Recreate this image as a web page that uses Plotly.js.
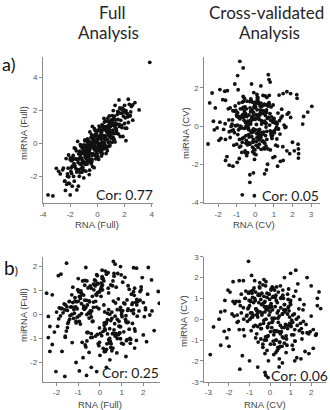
<!DOCTYPE html>
<html>
<head>
<meta charset="utf-8">
<script src="https://cdn.plot.ly/plotly-3.0.1.min.js"></script>
<style>
  html, body { margin: 0; padding: 0; background: #ffffff; }
  #chart { width: 330px; height: 410px; }
</style>
</head>
<body>
<div id="chart"></div>
<script>
// Row a, full analysis: RNA vs miRNA scores
const rnaFullA = [
  3.85, -3.63, -3.27, 3.07, 2.27, 1.59, 2.76, 2.59, 2.1, -3.02, -2.73, -2.85, -2.12, -2.0, -1.51, -1.85, -2.2, -2.12, -1.8, 2.45, 2.0, 1.8, 2.2, 1.3, -2.4, -1.7, -1.4, -2.5, -1.0, -0.6,
  -2.55, -2.4, -2.3, -2.2, -2.15, -2.05, -1.98, -1.9, -1.85, -1.8, -1.75, -1.7, -1.66, -1.6, -1.58, -1.55, -1.52, -1.5, -2.35, -2.0, -1.95, -1.72, -1.62, -2.25, -1.88, -1.68, -1.78, -2.1, -1.54, -1.92,
  -1.45, -1.4, -1.38, -1.33, -1.3, -1.27, -1.22, -1.2, -1.17, -1.12, -1.1, -1.07, -1.03, -1.0, -0.98, -0.95, -0.92, -0.9, -0.87, -0.85, -0.82, -0.8, -0.78, -0.75, -0.72, -0.7, -0.68, -0.65,
  -0.62, -0.6, -0.58, -0.55, -0.52, -0.5, -1.42, -1.25, -1.15, -1.05, -0.96, -0.88, -0.83, -0.77, -0.73, -0.66, -0.57, -1.35, -1.18, -1.08, -0.93, -0.86, -0.69, -0.63, -0.54, -1.28, -0.79,
  -0.48, -0.45, -0.43, -0.4, -0.38, -0.35, -0.33, -0.3, -0.28, -0.25, -0.22, -0.2, -0.18, -0.15, -0.12, -0.1, -0.08, -0.05, -0.03, 0.0, 0.02, 0.05, 0.07, 0.1, 0.12, 0.15, 0.17, 0.2, 0.22,
  0.25, 0.27, 0.3, 0.32, 0.35, 0.38, 0.4, 0.42, 0.45, 0.48, 0.5, -0.46, -0.41, -0.36, -0.31, -0.26, -0.21, -0.16, -0.11, -0.06, -0.01, 0.04, 0.09, 0.14, 0.19, 0.24, 0.29, 0.34, 0.39, 0.44,
  0.49, -0.37, -0.24, 0.01, 0.26, 0.36,
  0.52, 0.55, 0.58, 0.6, 0.63, 0.65, 0.68, 0.7, 0.73, 0.75, 0.78, 0.8, 0.83, 0.85, 0.88, 0.9, 0.93, 0.95, 0.98, 1.0, 1.03, 1.05, 1.08, 1.1, 1.13, 1.15, 1.18, 1.2, 1.24, 1.27, 1.3, 1.34,
  1.38, 1.42, 1.46, 1.5, 0.57, 0.62, 0.67, 0.72, 0.77, 0.82, 0.87, 0.92, 0.97, 1.02, 1.07, 1.12, 1.17, 1.22, 1.32, 1.4, 1.48, 0.64, 0.86,
  1.52, 1.55, 1.58, 1.62, 1.65, 1.68, 1.72, 1.76, 1.8, 1.84, 1.88, 1.92, 1.96, 2.0, 2.05, 2.1, 2.15, 2.2, 2.28, 2.35, 2.42, 2.5, 2.6, 1.6, 1.7, 1.78, 1.9, 2.03, 2.12, 2.3,
  -1.3, -1.1, -0.95, -0.85, -0.7, -0.6, -0.5, -0.4, -0.3, -0.2, -0.1, 0.0, 0.1, 0.2, 0.3, 0.4, 0.5, 0.6, 0.7, 0.8, 0.9, 1.0, 1.1, 1.2, 1.3, -1.2, -1.0, -0.9, -0.75, -0.65,
  -0.55, -0.45, -0.35, -0.25, -0.15, -0.05, 0.05, 0.15, 0.25, 0.35, 0.45, 0.55, 0.65, 0.75, 0.85, 0.95, 1.05, 1.15, 1.25, 1.4, -1.25, -1.05, -0.8, -0.62, -0.42, -0.22, -0.02, 0.18, 0.38, 0.58,
  0.78, 0.98, 1.18, 1.38, -0.88, -0.48, -0.08, 0.32, 0.72, 1.12, -1.15, -0.68, -0.28, 0.12, 0.52, 0.92, 1.32, -0.58, 0.02, 0.62
];
const mirFullA = [
  4.91, -3.13, -3.19, 2.02, 2.67, 2.63, 2.46, 2.32, 0.16, -1.52, -1.86, -1.7, -2.42, -3.13, -2.83, -2.6, -2.0, -0.71, -0.97, 1.9, 2.3, 2.1, 1.6, 2.3, -2.3, -2.3, -2.6, -1.5, -2.1, -1.9,
  -1.61, -2.3, -0.93, -1.85, -1.51, -2.44, -0.89, -1.83, -1.39, -0.9, -2.01, -0.28, -1.35, -0.95, -1.54, -0.46, -1.74, -0.98, -2.86, -1.0, -1.71, -1.24, -0.32, -2.49, -1.06, -1.41, -0.74, -2.03, -0.96, -1.49,
  0.11, -1.6, -0.64, -2.0, -0.88, -1.25, -0.17, -1.55, -0.88, -0.29, -1.03, -0.15, -1.62, -0.4, -1.14, -0.66, 0.21, -1.28, -0.45, -1.69, -0.12, -0.75, -0.29, -1.26, 0.26, -0.88, -0.41, -0.99,
  0.13, -0.7, -0.44, 0.69, -1.14, 0.02, -1.17, -0.69, -1.76, -0.24, -1.17, -0.51, -0.92, 0.12, -1.1, -0.05, -1.63, -0.96, -0.54, -1.46, 0.15, -0.85, 0.08, -0.87, -0.31, -1.76, -0.29,
  0.04, -0.64, 0.53, -1.0, -0.14, -1.41, 0.3, -0.28, 0.09, -0.69, 0.88, -0.4, -0.14, 0.54, -0.94, 0.12, -0.46, 0.46, -0.62, 0.1, 0.77, -0.91, 0.4, -0.07, 1.04, -0.44, 0.38, -0.2, 0.77,
  -0.56, 0.25, -0.77, 0.69, 0.06, 1.09, -0.15, 0.47, -0.31, 1.51, 0.28, 0.35, -1.11, 0.03, -0.63, 0.35, -0.21, 0.78, -0.68, 0.15, -0.31, 0.43, -0.98, 0.76, -0.01, 0.28, -0.28, 1.11, 0.04, 0.83,
  -0.33, 1.02, -1.48, 0.01, 0.55, -0.63,
  -0.06, 1.01, 0.34, 1.35, -0.23, 0.74, 0.21, 1.03, -0.45, 0.71, 1.34, 0.05, 0.97, 0.44, 1.66, -0.17, 0.75, 1.16, 0.34, 1.4, 0.62, 1.09, 0.06, 1.68, 0.8, 1.41, 0.29, 1.1, 0.58, 1.65, 0.08, 1.41,
  0.79, 1.17, 0.6, 1.93, 0.43, -0.18, 0.95, 0.24, 1.53, 0.52, 1.15, -0.11, 1.03, 0.32, 1.4, 0.64, 1.98, 0.22, 1.14, 0.65, 1.76, -0.62, 0.9,
  1.44, 0.56, 1.84, 1.02, 2.14, 0.41, 1.39, 1.82, 0.95, 2.13, 0.41, 1.64, 2.02, 1.2, 1.54, 1.98, 0.91, 1.8, 1.26, 2.36, 1.67, 2.23, 1.4, 1.15, 2.08, 1.09, 1.88, 0.92, 1.84, 1.63,
  -0.48, -1.13, -0.51, -1.24, 0.17, -0.55, -0.03, -0.75, -0.18, 0.45, -0.78, 0.25, -0.12, 0.95, -0.27, 0.45, 0.03, 0.9, -0.27, 0.7, 1.23, 0.5, 1.13, 0.25, 0.98, -1.3, -0.1, -0.83, -0.16, -1.04,
  -0.21, -1.24, 0.24, -0.24, 0.19, -0.64, 0.79, -0.19, 0.29, -0.19, 0.94, 0.21, 0.84, -0.19, 0.79, 0.61, 1.24, 0.36, 1.19, 0.75, -0.09, -1.19, -0.55, 0.03, -0.97, 0.03, -0.27, 0.84, -0.26, 0.44,
  0.99, 0.39, 1.49, 0.89, -1.16, -0.06, 0.59, -0.46, 0.64, 0.64, -0.61, -0.56, 0.34, -0.31, 1.29, 0.09, 1.14, 0.01, -0.78, 0.82
];

// Row a, cross-validated analysis
const rnaCvA = [
  -0.83, -0.65, -0.95, 0.7, 0.74, 0.8, -0.7, -0.05, -0.29, -0.29, -0.1, -2.54, 3.04, 2.82, 2.32, 2.32, 2.3, 2.33, 2.23, 2.25, -2.32, -2.45, -1.9, -1.64, -2.2, -2.25, -1.6, -1.4, -1.2, 0.5,
  0.6, 1.2, 1.5, 1.9, 0.3, -0.2, 2.55, 2.6, -1.1, 1.7,
  -0.12, 0.45, -0.88, 1.23, 0.05, -0.41, 0.77, -1.35, 0.3, -0.65, 1.02, -0.2, 0.58, -1.1, 0.14, -0.52, 1.5, -0.03, 0.36, -0.95,
  0.68, -0.27, 1.15, -1.6, 0.22, -0.74, 0.9, -0.08, 0.51, -1.25, 0.1, -0.46, 1.38, -0.6, 0.26, -1.85, 0.83, -0.15, 0.62, -0.35,
  1.72, -0.9, 0.02, -0.55, 1.08, -1.45, 0.4, -0.18, 0.95, -0.7, 0.18, -1.02, 1.28, -0.3, 0.55, -2.05, 0.7, -0.05, 0.33, -1.2,
  0.88, -0.62, 1.6, -0.1, 0.47, -0.82, 0.08, -1.5, 1.12, -0.38, 0.25, -0.97, 0.64, -0.22, 1.9, -0.48, 0.12, -1.3, 0.79, -0.02,
  -0.68, 1.33, -0.25, 0.42, -1.15, 0.98, -0.5, 0.2, -1.7, 0.6, -0.14, 1.45, -0.85, 0.35, -0.4, 1.05, -1.05, 0.16, -0.58, 2.0,
  0.0, -0.78, 0.74, -1.4, 0.28, -0.33, 1.18, -0.92, 0.5, -0.11, 1.65, -0.64, 0.04, -1.22, 0.86, -0.44, 0.38, -1.9, 0.66, -0.2,
  1.25, -0.56, 0.15, -1.08, 0.92, -0.3, 0.53, -1.6, 0.06, -0.72, 1.42, -0.16, 0.72, -1.0, 0.31, -0.47, 1.8, -0.86, 0.2, -0.07,
  -1.35, 0.58, -0.24, 1.1, -0.6, 0.44, -2.15, 0.81, -0.36, 0.09, -0.94, 1.55, -0.12, 0.66, -1.18, 0.24, -0.53, 1.0, -0.76, 0.14,
  0.48, -1.52, 1.3, -0.19, 0.01, -0.83, 0.87, -0.42, 1.7, -1.12, 0.34, -0.09, 0.6, -1.75, 1.16, -0.26, 0.41, -0.66, 2.1, -0.34,
  -0.5, 0.96, -1.28, 0.19, -0.04, 1.22, -0.8, 0.55, -0.29, 1.48, -1.42, 0.27, -0.61, 0.75, -0.1, 1.85, -1.0, 0.07, -0.4, 0.5,
  1.03, -0.15, 0.32, -1.62, 0.85, -0.7, 0.11, -0.37, 1.35, -0.9, 0.62, -0.02, -1.95, 0.45, -0.52, 1.2, -0.23, 0.9, -1.08, 0.23,
  -0.45, 0.2, -0.8, 0.55, -0.1, 0.35, -0.6, 0.85, -0.25, 0.05, 0.65, -0.95, 0.15, -0.35, 0.45, -0.7, 0.95, -0.05, 0.25, -0.5,
  0.75, -0.2, 0.1, -0.85, 0.6, -0.4, 0.3, -0.15, 1.1, -0.65, 0.4, -0.3, 0.0, 0.8, -0.55, 0.18, -1.0, 0.5, -0.12, 0.28,
  -0.75, 0.7, -0.22, 0.08, -0.48, 0.9, -0.38, 0.12, 0.58, -0.9, 0.22, -0.58, 1.0, -0.08, 0.38, -0.28, 0.62, -0.68, 0.02, 0.48
];
const mirCvA = [
  3.39, 3.04, 2.64, 2.69, 2.43, 2.3, -3.6, -3.65, -2.95, -2.55, -2.45, -0.94, 1.03, 0.73, -1.68, -1.2, -0.95, -1.45, 1.64, 1.45, 1.73, 1.21, 1.91, 1.82, -0.2, 0.25, -1.8, -2.05, -2.1, -2.5,
  -2.3, -2.1, 1.7, 1.7, 2.1, 2.2, 0.1, 0.5, 2.2, -1.3,
  0.35, -0.82, 1.2, -0.15, 0.6, -1.4, 0.05, 0.95, -0.5, 1.55, -0.25, 0.4, -1.05, 0.78, -0.6, 0.18, -1.8, 1.1, -0.35, 0.7,
  -1.2, 0.25, -0.05, 1.35, -0.72, 0.5, -0.3, 1.75, -0.9, 0.1, 0.85, -1.55, 0.42, -0.12, 1.05, -0.65, 0.3, -1.1, 1.5, -0.45,
  0.62, -0.2, 1.0, -1.3, 0.15, 0.9, -0.78, 0.48, -1.65, 1.25, -0.4, 0.02, 1.62, -0.95, 0.55, -0.1, 1.15, -1.45, 0.28, 0.8,
  -0.55, 1.3, -0.08, 0.72, -1.15, 0.38, -0.62, 1.85, 0.2, -0.88, 0.58, -1.9, 1.08, -0.28, 0.45, -0.75, 1.4, -0.02, 0.65, -1.25,
  0.92, -0.42, 0.1, 1.6, -1.0, 0.3, -0.5, 1.18, -0.18, 0.75, -1.35, 0.52, -0.7, 1.02, 0.0, -1.6, 0.82, -0.22, 1.45, -0.85,
  0.4, -1.05, 1.22, -0.3, 0.68, -0.58, 0.12, 1.9, -1.2, 0.55, -0.05, 0.98, -1.5, 0.32, -0.38, 1.3, -0.8, 0.2, -2.0, 0.85,
  -0.15, 0.6, -1.12, 1.05, -0.48, 0.25, 1.58, -0.7, 0.08, -1.38, 0.88, -0.25, 0.45, -0.95, 1.2, -0.1, 0.7, -1.7, 0.35, 1.0,
  -0.6, 0.15, 1.42, -1.0, 0.5, -0.32, 0.95, -1.25, 0.22, 1.65, -0.45, 0.05, -0.85, 1.12, -0.2, 0.62, -1.4, 0.38, -0.05, 1.5,
  0.78, -1.6, 0.28, -0.55, 1.25, -0.12, 0.48, -0.98, 1.8, -0.35, 0.1, -1.18, 0.72, 1.38, -0.68, 0.18, -0.42, 0.9, -1.3, 0.58,
  -0.9, 1.1, -0.25, 0.42, -1.75, 0.68, 0.0, -0.5, 1.28, -1.08, 0.32, 0.85, -0.6, 1.6, -0.15, -1.45, 0.52, -0.8, 0.25, 1.15,
  -0.35, 0.75, -1.22, 0.12, 1.0, -0.65, 1.5, -0.1, -1.85, 0.45, -0.28, 1.08, -0.75, 0.2, 0.65, -1.05, 1.35, -0.4, 0.02, -0.18,
  0.5, -0.3, 0.9, 0.15, -0.7, 1.1, 0.3, -0.45, 0.75, -1.0, 0.4, 0.05, 1.3, -0.2, 0.65, -0.85, 0.2, 0.95, -0.55, 0.0,
  1.15, -0.35, 0.55, -1.1, 0.85, 0.1, -0.6, 1.25, -0.15, 0.45, 0.8, -0.9, 0.35, -0.25, 1.0, -0.5, 0.6, 0.25, -0.8, 0.7,
  -0.1, 1.05, 0.3, -0.4, 0.9, -0.65, 0.15, 1.2, -0.05, 0.5, -0.95, 0.75, 0.4, -0.3, 0.2, 0.95, -0.7, 0.6, -0.2, 1.1
];

// Row b, full analysis
const rnaFullB = [
  -1.54, 0.62, 0.7, 2.23, 1.69, 1.55, -0.65, -1.8, -1.92, -2.46, -2.2, 2.69, 2.74, 2.38, -2.38, -2.31, -2.38, -2.31, -2.03, -1.62, -0.95, -0.62, -0.15, 0.46, 2.15, 2.0, 0.3, -0.4, -1.1, 1.2,
  0.95, 0.1, -1.0, 1.6,
  -1.2, 0.35, 1.1, -0.45, 0.8, -1.75, 0.05, 1.55, -0.9, 0.5, -0.15, 1.3, -1.4, 0.22, 0.95, -0.6, 1.8, -0.3, 0.65, -1.05,
  0.12, -1.6, 1.42, -0.72, 0.38, 1.05, -0.2, -1.9, 0.75, 0.0, 1.65, -0.5, 0.28, -1.25, 0.9, -0.05, 2.05, -0.85, 0.45, -1.5,
  1.2, -0.35, 0.6, -1.1, 0.18, 1.5, -0.65, -2.1, 0.85, 0.3, -0.95, 1.72, -0.1, 0.52, -1.35, 1.0, -0.55, 0.08, 2.2, -0.78,
  -1.82, 0.7, -0.25, 1.35, 0.4, -1.0, 0.15, 1.9, -0.6, -1.3, 0.95, -0.08, 1.6, -1.55, 0.25, -0.42, 1.15, 0.55, -2.0, 0.02,
  0.88, -0.7, 1.45, -1.18, 0.32, -0.18, 2.4, -0.88, 0.62, -1.45, 0.1, 1.25, -0.38, 0.78, -1.65, 0.45, -0.02, 1.85, -1.02, 0.2,
  -0.48, 1.08, -1.22, 0.58, -0.12, 1.58, -0.8, 0.35, -1.95, 0.92, 0.05, -0.58, 1.38, -1.08, 0.68, -0.28, 2.1, -1.38, 0.15, -0.68,
  1.28, -0.02, 0.48, -1.62, 0.82, -0.4, 1.7, -1.15, 0.25, -0.75, 1.02, -0.22, 0.58, -1.8, 1.5, -0.5, 0.38, -0.95, 2.3, -0.15,
  0.72, -1.28, 0.08, 1.18, -0.62, 0.42, -1.48, 0.98, -0.32, 1.62, -0.9, 0.18, -2.2, 0.65, 1.4, -0.45, -1.12, 0.3, 1.95, -0.82,
  -0.1, 0.55, -1.7, 1.22, -0.52, 0.12, 0.95, -1.32, 0.4, 1.75, -0.7, -0.02, 1.1, -1.58, 0.62, -0.35, 2.5, -0.98, 0.22, 1.48,
  -1.42, 0.8, -0.2, 1.3, -0.85, 0.02, 0.5, -1.2, 1.68, -0.6, 0.28, -1.88, 1.0, -0.3, 0.75, 2.0, -1.05, 0.45, -0.12, 1.55,
  -0.75, 0.2, 1.25, -1.52, 0.88, -0.4,
  0.4, -0.9, 1.3, -0.3, 0.75, -1.4, 0.1, 1.7, -0.6, 0.55, -1.15, 0.9, -0.05, 1.45, -0.75, 0.25, -1.6, 1.05, -0.4, 0.65,
  2.1, -0.2, 0.3, -1.0, 1.2, -0.55, 0.85, -1.3, 0.05, 1.6, -0.85, 0.45, -0.15, 1.85, -1.1, 0.6, -0.45, 1.0, -1.75, 0.2,
  1.35, -0.65, 0.95, -0.25, 0.15, -1.25, 1.55, -0.5, 0.7, -0.95, 0.35, 1.15, -1.5, 0.5, -0.1, 1.25, -0.7, 0.8, -0.35, 1.9
];
const mirFullB = [
  2.14, 2.21, 2.1, 1.96, 1.93, 1.95, 1.96, 1.68, 1.62, 0.89, 0.82, 0.96, 0.47, 1.44, -0.08, -0.5, -0.96, -1.54, -2.38, -2.58, -2.35, -2.54, -2.38, -1.89, -1.13, -0.85, -2.2, -2.2, -2.0, -1.75,
  2.0, 1.85, 1.5, -1.4,
  0.2, -0.81, 0.48, 1.19, -0.2, -1.54, 0.76, 0.19, 0.77, -1.37, 0.31, -0.32, 0.55, 0.11, -1.01, 1.4, 0.15, 0.52, -0.64, -0.11,
  1.23, -0.95, -1.04, 0.22, 1.75, 0.16, -0.9, -0.18, 1.14, -1.7, 0.51, 0.57, -0.38, 1.14, -0.77, 0.24, -0.09, 0.89, -1.09, 0.17,
  -0.05, 0.76, -1.4, -0.28, 1.4, -0.37, 0.29, -0.73, -0.84, 1.68, -0.04, -0.07, 0.92, -1.22, 0.31, 0.1, 1.11, -0.88, 0.85, -1.8,
  -0.06, -0.07, 1.44, -0.61, 0.2, 0.55, -1.41, 1.03, -0.75, 0.82, 0.19, -1.22, 1.1, -0.69, 1.81, -0.96, 0.44, -1.51, 0.1, 1.01,
  -0.48, 1.22, 0.16, 0.05, -1.22, 0.85, 0.15, 0.98, -0.79, -0.31, 1.58, -0.34, 0.15, -1.6, 0.44, 0.01, -1.16, 0.96, 1.04, -0.35,
  0.53, -1.23, -0.16, 1.2, -0.83, 0.8, 1.4, -0.21, -0.49, -0.77, 1.31, 0.4, -1.0, 0.53, -0.38, 1.03, 0.28, -0.05, 1.49, -1.27,
  0.17, 0.94, -1.13, 0.19, 1.71, -0.8, 0.63, 0.56, -1.54, 0.26, -0.09, 1.19, -0.8, 0.25, 0.48, -1.58, 1.1, -0.29, -0.02, 1.66,
  0.48, -1.17, 1.17, -0.2, 0.59, -1.19, -0.37, 1.65, -0.28, -0.69, 0.67, 0.4, -1.25, 1.71, -1.2, 0.04, 0.32, -0.32, 1.54, -1.16,
  1.27, -0.16, 0.07, -1.09, 0.07, 1.03, -0.51, 0.32, -1.05, 0.54, 1.42, -0.56, -0.72, 0.4, 0.56, -0.29, -0.67, 0.95, -0.59, 0.42,
  0.54, -1.0, 1.4, 0.23, 0.04, -0.79, 1.23, 0.3, -1.08, 0.0, -0.33, 0.28, 0.0, 1.27, -0.86, 0.5, 0.24, -0.59, 1.62, 0.04,
  0.81, -1.55, 0.61, 0.32, -0.28, 1.1,
  0.9, -0.4, 1.2, 0.3, -0.8, -0.2, 1.5, 0.4, -1.1, 0.1, 0.7, -0.5, -1.3, 0.85, 0.35, -0.65, -0.9, 1.35, -0.1, 1.6,
  0.2, 0.55, -1.45, 1.0, -0.3, -0.75, 0.65, 0.0, 1.1, -0.6, 0.45, -1.0, 0.8, 0.6, -0.35, 1.4, 0.15, -1.2, 0.25, -0.45,
  1.05, -1.35, 0.3, 1.25, -0.7, 0.5, 0.95, -0.15, -0.9, 0.75, 0.05, 1.55, -0.55, -0.25, 1.3, -1.05, 0.6, 0.2, -0.95, 1.15
];

// Row b, cross-validated analysis
const rnaCvB = [
  -1.05, -2.91, -2.48, -2.75, -2.23, -2.4, -2.0, -1.47, 0.44, 0.6, 1.25, 1.0, 0.7, -0.9, -1.8, -1.5, -1.3, 2.38, 2.46, 2.3, 2.22, 2.1, 1.89, 1.5, 1.2, -0.21, -0.25, -0.1, -0.6, -1.0,
  -2.2, -2.05, 2.0, 1.8,
  0.25, -0.8, 1.15, -0.35, 0.6, -1.5, 0.02, 0.9, -1.1, 0.4, -0.15, 1.45, -0.6, 0.18, -1.95, 0.75, -0.42, 1.2, -0.05, 0.5,
  -1.3, 0.1, 0.85, -0.7, 1.6, -0.25, 0.35, -1.75, 0.68, -0.5, 1.05, -0.02, 0.48, -1.2, 1.88, -0.88, 0.22, -0.32, 1.3, -1.0,
  0.55, -0.1, -1.6, 0.95, 0.15, -0.58, 1.4, -0.95, 0.3, -0.2, 2.1, -1.4, 0.72, -0.45, 0.05, 1.1, -0.75, 0.42, -2.2, 0.82,
  -0.3, 1.25, -0.65, 0.08, 1.7, -1.15, 0.52, -0.12, 0.98, -1.85, 0.28, -0.52, 1.52, -0.9, 0.62, -0.22, 0.12, -1.35, 1.0, -0.38,
  1.8, -0.72, 0.38, -1.05, 0.2, 0.88, -0.48, 1.35, -1.25, 0.0, 0.65, -2.0, 1.12, -0.18, 0.45, -0.82, 1.55, -0.28, -1.55, 0.78,
  -0.05, 0.58, -1.45, 1.22, -0.62, 0.32, 2.25, -0.98, 0.15, -0.35, 0.92, -1.65, 0.5, -0.08, 1.65, -0.7, 0.25, -1.12, 0.7, -0.45,
  1.38, -0.15, 0.05, -2.4, 0.85, -0.55, 1.08, -0.3, 0.4, -1.3, 1.95, -0.85, 0.18, 0.6, -1.02, 1.48, -0.4, 0.3, -0.68, 1.02,
  -1.72, 0.48, -0.22, 1.28, -0.92, 0.12, 0.8, -0.6, 1.75, -1.18, 0.35, -0.02, -0.5, 1.15, -1.4, 0.58, -0.25, 2.0, -0.78, 0.08,
  0.95, -1.22, 0.42, -0.12, 1.58, -0.88, 0.22, -2.1, 0.7, -0.35, 1.32, -0.65, 0.02, 0.88, -1.5, 0.52, -0.2, 1.05, -0.95, 0.28,
  -0.58, 1.62, -1.08, 0.15, 0.62, -0.42, 1.18, -1.8, 0.38, -0.05, 0.78, -1.28, 2.3, -0.72, 0.45, -0.15, 1.42, -0.48, 0.1, -1.6,
  0.66, -0.28, 1.0, -0.82, 0.2, -1.02,
  0.3, -0.55, 0.8, -0.2, 0.05, -0.85, 0.5, -0.35, 1.1, -0.05, 0.25, -0.65, 0.65, -0.15, 0.9, -0.45, 0.15, -0.95, 0.45, -0.25,
  1.2, -0.75, 0.35, -0.1, 0.7, -0.5, 0.1, -1.05, 0.55, -0.3, 0.95, 0.0, -0.6, 0.4, -0.18, 0.75, -0.8, 0.2, -0.4, 1.0,
  -0.02, 0.6, -0.7, 0.28, -0.12, 0.85, -0.9, 0.12, -0.28, 0.5
];
const mirCvB = [
  2.78, -1.7, 0.0, -0.37, -0.58, -1.25, -1.3, -2.4, -2.29, -2.1, 2.35, 2.2, 2.0, 2.1, 1.8, 1.85, 1.85, 1.31, 0.51, 1.0, -0.77, -0.5, -1.65, -1.9, -2.0, -2.69, -2.55, -2.8, -2.3, -2.0,
  0.9, 1.4, 1.6, 2.0,
  0.6, -0.35, 1.1, -1.2, 0.25, 0.85, -0.6, 1.45, -0.1, 0.4, -1.5, 0.95, 0.1, -0.75, 1.3, -0.25, 0.7, -1.05, 0.2, 1.6,
  -0.5, 0.05, 1.2, -0.9, 0.45, -1.65, 0.8, 0.15, -0.4, 1.75, -0.05, 0.55, -1.3, 1.0, -0.7, 0.3, 1.4, -0.2, -1.85, 0.65,
  1.05, -0.8, 0.2, -0.3, 1.5, -1.1, 0.5, 0.9, -0.55, 0.0, -1.4, 1.2, 0.35, -0.95, 0.75, -0.15, 1.85, -0.6, 0.4, -1.25,
  -0.05, 1.35, -0.7, 0.6, -1.55, 0.15, 1.0, -0.35, 0.8, 0.25, -1.0, 1.55, -0.45, 0.1, 1.15, -0.85, 0.45, -1.75, 0.7, 0.3,
  -0.65, 0.9, 0.05, 1.25, -1.2, 0.55, -0.25, 1.7, -0.8, 0.35, 1.0, -0.5, -1.45, 0.6, 0.15, 1.4, -0.95, 0.8, -0.1, -1.6,
  1.2, -0.4, 0.65, -1.05, 0.25, 1.55, -0.7, 0.0, 1.1, -1.35, 0.4, 0.85, -0.3, -2.0, 0.7, 1.3, -0.6, 0.2, -1.15, 0.95,
  0.1, -0.85, 1.45, 0.35, -0.45, 0.8, -1.25, 1.9, -0.15, 0.55, -0.6, 1.05, -1.7, 0.25, 0.9, -0.2, 1.25, -1.0, 0.5, -0.35,
  0.75, -1.1, 1.6, 0.0, -0.55, 1.05, -0.95, 0.4, -0.25, 1.35, -1.5, 0.6, 1.15, -0.75, 0.3, -1.3, 0.85, 0.15, 1.5, -0.4,
  -0.2, 1.0, -1.4, 0.45, -0.65, 1.25, 0.05, -0.9, 0.7, 1.65, -0.3, 0.2, -1.2, 0.95, -0.5, 0.55, 1.8, -0.75, 0.3, -1.6,
  1.15, -0.1, 0.5, -1.05, 1.4, -0.45, 0.25, 0.85, -1.35, 1.2, -0.8, 0.0, 0.65, -0.3, -1.9, 1.05, -0.55, 0.35, 1.55, -0.15,
  0.45, -1.0, 0.9, 0.2, -0.6, 1.3,
  0.9, 1.2, -0.3, 0.5, 1.4, 0.1, -0.7, 0.75, 0.2, -0.2, 1.05, 0.4, -0.9, 1.25, 0.6, -0.45, 0.0, 0.85, -1.1, 0.35,
  -0.5, 1.0, 0.3, -0.8, 0.7, 1.5, -0.15, 0.55, -0.6, 1.1, 0.1, 0.65, -0.35, 1.3, -1.0, 0.45, 0.8, -0.55, 0.2, -0.25,
  0.95, -0.85, 0.5, 1.15, -0.4, 0.25, 1.35, -0.1, 0.6, -0.65
];

const corLabels = ["0.77", "0.05", "0.25", "0.06"];
const xTitles = ["RNA (Full)", "RNA (CV)", "RNA (Full)", "RNA (CV)"];
const yTitles = ["miRNA (Full)", "miRNA (CV)", "miRNA (Full)", "miRNA (CV)"];
const xTicks = [[-4, -2, 0, 2, 4], [-2, -1, 0, 1, 2, 3], [-2, -1, 0, 1, 2], [-3, -2, -1, 0, 1, 2]];
const yTicks = [[-2, 0, 2, 4], [-4, -2, 0, 2], [-2, -1, 0, 1, 2], [-3, -2, -1, 0, 1, 2, 3]];

const W = 330, H = 410;
const px = v => v / W;          // pixel column -> paper x
const py = v => 1 - v / H;      // pixel row -> paper y

// Panel frames in pixels: [left, right, top, bottom] and axis ranges
const frames = [
  { box: [43, 153, 57, 203],    xr: [-4.0, 4.09],  yr: [-3.62, 5.23] },
  { box: [204.3, 320, 56.7, 203], xr: [-2.74, 3.48], yr: [-4.03, 3.63] },
  { box: [42.7, 160, 256.7, 381.7], xr: [-2.64, 2.77], yr: [-2.8, 2.41] },
  { box: [204.3, 326, 256.7, 381.7], xr: [-3.2, 2.72], yr: [-3.0, 3.0] }
];

const series = [
  [rnaFullA, mirFullA],
  [rnaCvA, mirCvA],
  [rnaFullB, mirFullB],
  [rnaCvB, mirCvB]
];

const tickFont = { family: "Liberation Sans, Arial, sans-serif", size: 8, color: "#555555" };
const titleFont = { family: "Liberation Sans, Arial, sans-serif", size: 9.5, color: "#444444" };
const calFont = (s, c) => ({ family: "Lato, 'Open Sans', sans-serif", size: s, color: c || "#1a1a1a" });

const traces = [];
const layout = {
  width: W, height: H,
  margin: { l: 0, r: 0, t: 0, b: 0 },
  paper_bgcolor: "#ffffff",
  plot_bgcolor: "#ffffff",
  showlegend: false,
  annotations: []
};

series.forEach((s, i) => {
  const n = i === 0 ? "" : String(i + 1);
  const f = frames[i];
  traces.push({
    type: "scatter", mode: "markers",
    x: s[0], y: s[1],
    xaxis: "x" + n, yaxis: "y" + n,
    marker: { size: 3.8, color: "#111111" },
    hoverinfo: "x+y"
  });
  const axisCommon = {
    showgrid: false, zeroline: false, showline: true,
    linecolor: "#8a8a8a", linewidth: 1,
    ticks: "outside", ticklen: 3, tickwidth: 1, tickcolor: "#8a8a8a",
    tickfont: tickFont, fixedrange: true
  };
  layout["xaxis" + n] = Object.assign({}, axisCommon, {
    domain: [px(f.box[0]), px(f.box[1])],
    range: f.xr, anchor: "y" + n,
    tickmode: "array", tickvals: xTicks[i], ticktext: xTicks[i].map(String)
  });
  layout["yaxis" + n] = Object.assign({}, axisCommon, {
    domain: [py(f.box[3]), py(f.box[2])],
    range: f.yr, anchor: "x" + n,
    tickmode: "array", tickvals: yTicks[i], ticktext: yTicks[i].map(String)
  });
});

// Axis titles, correlation labels and headings (pixel positions)
const xTitlePos = [[97, 224.5], [254, 224.5], [100, 404.5], [265, 404.5]];
const yTitlePos = [[23, 133], [185, 133], [23, 315], [183, 321]];
const corPos = [[155, 194], [321, 195], [161, 372.5], [330, 375]];

for (let i = 0; i < 4; i++) {
  layout.annotations.push({
    xref: "paper", yref: "paper", showarrow: false,
    x: px(xTitlePos[i][0]), y: py(xTitlePos[i][1]),
    xanchor: "center", yanchor: "middle",
    text: xTitles[i], font: titleFont
  });
  layout.annotations.push({
    xref: "paper", yref: "paper", showarrow: false,
    x: px(yTitlePos[i][0]), y: py(yTitlePos[i][1]),
    xanchor: "center", yanchor: "middle", textangle: -90,
    text: yTitles[i], font: titleFont
  });
  layout.annotations.push({
    xref: "paper", yref: "paper", showarrow: false,
    x: px(corPos[i][0]), y: py(corPos[i][1]),
    xanchor: "right", yanchor: "middle",
    text: "Cor: " + corLabels[i], font: calFont(14)
  });
}

const headings = [
  ["Full", 111.7, 12], ["Analysis", 108.7, 33],
  ["Cross-validated", 266, 12], ["Analysis", 269, 33]
];
headings.forEach(h => layout.annotations.push({
  xref: "paper", yref: "paper", showarrow: false,
  x: px(h[1]), y: py(h[2]), xanchor: "center", yanchor: "middle",
  text: h[0], font: calFont(17, "#262626")
}));

layout.annotations.push({
  xref: "paper", yref: "paper", showarrow: false,
  x: 0, y: py(64), xanchor: "left", yanchor: "middle",
  text: "a)", font: calFont(18, "#111111")
});
layout.annotations.push({
  xref: "paper", yref: "paper", showarrow: false,
  x: px(2), y: py(267), xanchor: "left", yanchor: "middle",
  text: "b<span style='font-size:12px'>)</span>", font: calFont(19, "#111111")
});

Plotly.newPlot("chart", traces, layout, { staticPlot: true, displayModeBar: false });
</script>
</body>
</html>
